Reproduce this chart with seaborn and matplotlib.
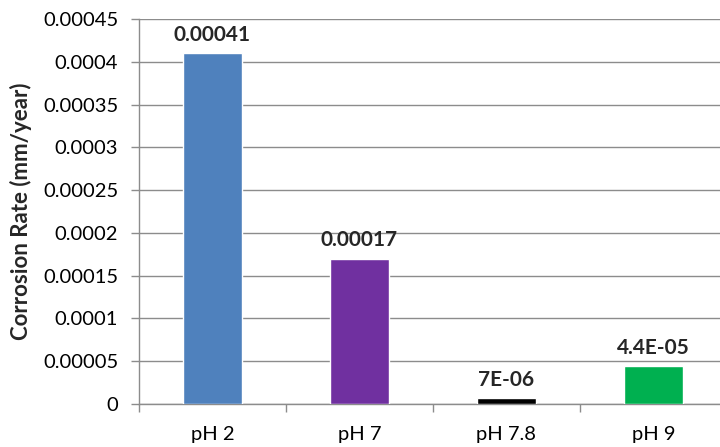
import pandas as pd
import numpy as np
import matplotlib.pyplot as plt
import seaborn as sns
from matplotlib.ticker import FuncFormatter, MultipleLocator, FixedLocator

# Data
categories = ["pH 2", "pH 7", "pH 7.8", "pH 9"]
rates = [0.00041, 0.00017, 0.000007, 0.000044]
bar_labels = ["0.00041", "0.00017", "7E-06", "4.4E-05"]
colors = ["#4F81BD", "#7030A0", "#000000", "#00B050"]

df = pd.DataFrame({"pH": categories, "rate": rates})

sns.set_style("white")
plt.rcParams['font.family'] = ['Lato', 'DejaVu Sans']

fig = plt.figure(figsize=(7.2, 4.47), dpi=100)
ax = fig.add_axes([139/720, 1 - 404/447, (727 - 139)/720, (404 - 19)/447])

sns.barplot(data=df, x="pH", y="rate", hue="pH", palette=colors,
            width=0.4, legend=False, ax=ax, saturation=1, zorder=3)

grid_col = "#8C8C8C"
ax.set_xlim(-0.5, 3.5)
ax.set_ylim(0, 0.00045)
ax.yaxis.set_major_locator(MultipleLocator(0.00005))
ax.yaxis.set_major_formatter(FuncFormatter(
    lambda v, p: "0" if abs(v) < 1e-12 else f"{v:.5f}".rstrip('0').rstrip('.')))
ax.grid(axis="y", color=grid_col, linewidth=1, zorder=0)
ax.set_axisbelow(True)

for s in ["top", "right"]:
    ax.spines[s].set_visible(False)
for s in ["left", "bottom"]:
    ax.spines[s].set_color(grid_col)
    ax.spines[s].set_linewidth(1)

ax.tick_params(axis="y", which="major", left=True, length=6, width=1,
               color=grid_col, pad=9, labelsize=14.5, labelcolor="#000000")
ax.xaxis.set_minor_locator(FixedLocator(np.arange(-0.5, 3.6, 1)))
ax.tick_params(axis="x", which="minor", bottom=True, length=6, width=1, color=grid_col)
ax.tick_params(axis="x", which="major", length=0, pad=16, labelsize=14.5, labelcolor="#000000")

ax.set_xlabel("")
ax.set_ylabel("Corrosion Rate (mm/year)", fontsize=16, fontweight="bold", labelpad=8)

for i, (v, lab) in enumerate(zip(rates, bar_labels)):
    ax.annotate(lab, (i, v), xytext=(0, 6), textcoords="offset points",
                ha="center", va="bottom", fontsize=15, fontweight="bold")

fig.savefig("out.png", dpi=100)
